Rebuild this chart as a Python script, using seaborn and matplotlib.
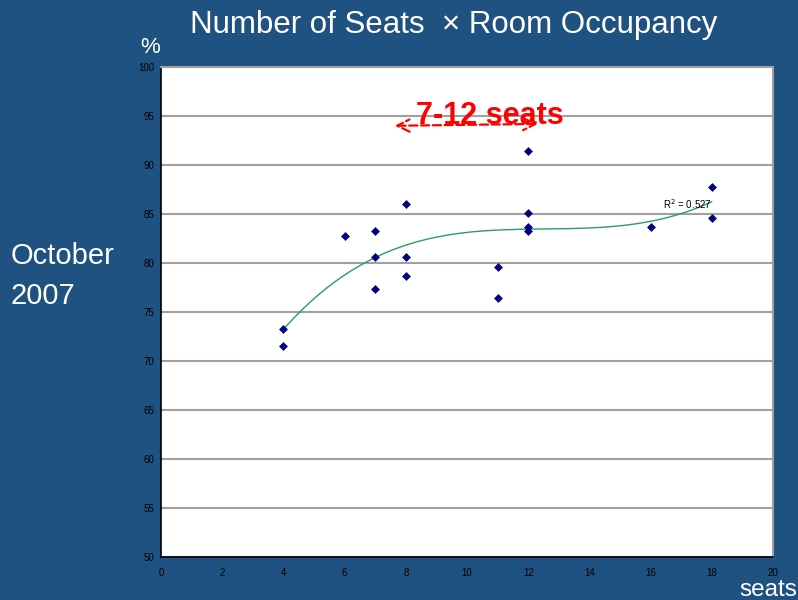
import numpy as np
import pandas as pd
import seaborn as sns
import matplotlib.pyplot as plt

# data
seats = [4, 4, 6, 7, 7, 7, 8, 8, 8, 11, 11, 12, 12, 12, 12, 16, 18, 18]
occupancy = [73.3, 71.5, 82.8, 83.3, 80.6, 77.3, 86.0, 80.6, 78.7,
             79.6, 76.4, 91.4, 85.1, 83.7, 83.3, 83.7, 87.8, 84.6]
x_ticks = list(range(0, 21, 2))
y_ticks = list(range(50, 101, 5))
r2_label = "R$^2$ = 0.527"

BG = '#1f5280'
FONT = ['Liberation Sans', 'DejaVu Sans']
NARROW = ['Liberation Sans Narrow', 'Liberation Sans', 'DejaVu Sans']

df = pd.DataFrame({'seats': seats, 'occupancy': occupancy})

# cubic trend line like the spreadsheet one
coef = np.polyfit(df.seats, df.occupancy, 3)
xs = np.linspace(min(seats), max(seats), 200)
trend = pd.DataFrame({'seats': xs, 'occupancy': np.polyval(coef, xs)})

sns.set_style('white')
plt.rcParams['font.family'] = FONT

fig = plt.figure(figsize=(7.98, 6.0), dpi=100, facecolor=BG)
ax = fig.add_axes([0.2018, 0.0717, 0.7669, 0.8166])
ax.set_facecolor('white')

sns.lineplot(data=trend, x='seats', y='occupancy', ax=ax, color='#2e9a6a', lw=1.0)
sns.scatterplot(data=df, x='seats', y='occupancy', ax=ax, marker='D', s=16,
                color='#000080', edgecolor='#000080', linewidth=0.5, zorder=3)

ax.set_xlim(0, 20)
ax.set_ylim(50, 100)
ax.set_xticks(x_ticks)
ax.set_yticks(y_ticks)
ax.set_xticklabels([str(t) for t in x_ticks], family=NARROW, fontsize=7, color='black')
ax.set_yticklabels([str(t) for t in y_ticks], family=NARROW, fontsize=7, color='black')
ax.tick_params(axis='x', direction='in', length=3, width=0.8, pad=8)
ax.tick_params(axis='y', direction='out', length=3, width=0.8, pad=2)
ax.set_xlabel('')
ax.set_ylabel('')
ax.yaxis.grid(True, color='#a0a0a0', lw=1.5)
ax.xaxis.grid(False)
ax.set_axisbelow(True)

for side in ['left', 'bottom']:
    ax.spines[side].set_color('black')
    ax.spines[side].set_linewidth(1.2)
for side in ['top', 'right']:
    ax.spines[side].set_color('#a0a0a0')
    ax.spines[side].set_linewidth(1.5)

ax.text(16.4, 86.0, r2_label, fontsize=7, family=NARROW, color='black',
        ha='left', va='center')

# 7-12 seats range marker
ax.annotate('', xy=(7.55, 94.0), xytext=(12.4, 94.2),
            arrowprops=dict(arrowstyle='<->', color='red', lw=1.6,
                            linestyle='--', mutation_scale=22))
ax.text(10.75, 95.0, '7-12 seats', color='red', fontsize=22, fontweight='bold',
        ha='center', va='center')

fig.text(0.568, 0.958, 'Number of Seats  \u00d7 Room Occupancy', color='white',
         fontsize=22.5, ha='center', va='center')
fig.text(0.188, 0.921, '%', color='white', fontsize=16, ha='center', va='center')
fig.text(0.013, 0.54, 'October\n2007', color='white', fontsize=21,
         ha='left', va='center', linespacing=1.5)
fig.text(0.999, 0.017, 'seats', color='white', fontsize=17.5, ha='right', va='center')

fig.savefig('out.png', dpi=100, facecolor=BG)
